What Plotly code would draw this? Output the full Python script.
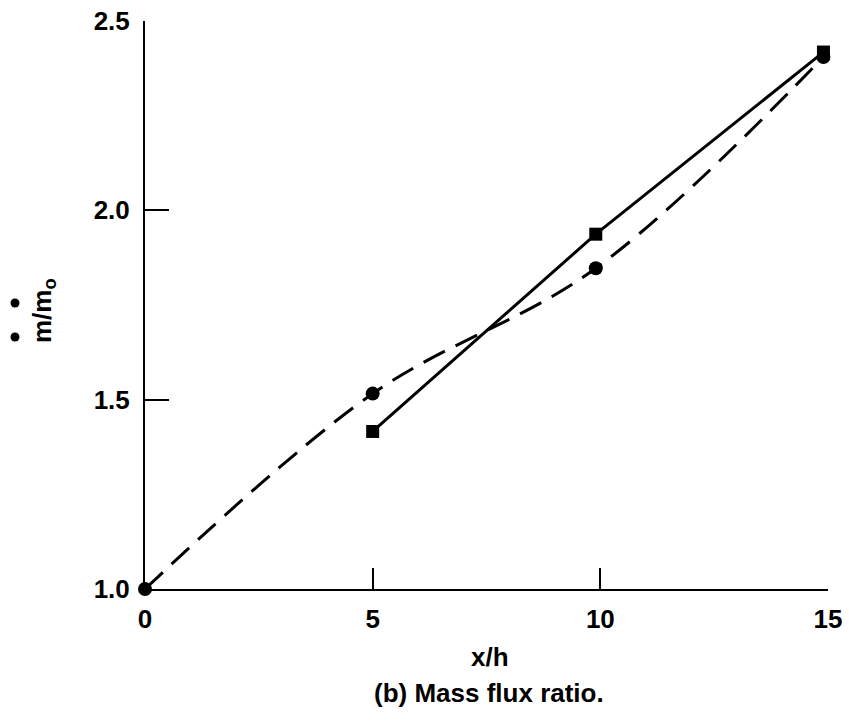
import plotly.graph_objects as go

# Data
x_circle = [0, 5, 9.9, 14.9]
y_circle = [1.0, 1.516, 1.847, 2.405]
x_square = [5, 9.9, 14.9]
y_square = [1.416, 1.937, 2.418]

x_ticks = [0, 5, 10, 15]
y_ticks = [1.0, 1.5, 2.0, 2.5]
y_tick_text = ["1.0", "1.5", "2.0", "2.5"]

W, H = 849, 721
AX_L, AX_R, AX_T, AX_B = 145, 828, 21, 589  # plot-area edges in window pixels
L, R, T, B = AX_L, W - AX_R, AX_T, H - AX_B
PW, PH = AX_R - AX_L, AX_B - AX_T
FONT = "Liberation Sans, Arial, sans-serif"
TXT = dict(size=26, family=FONT, color="black", weight="bold")


def px(xp):
    return (xp - AX_L) / PW


def py(yp):
    return (AX_B - yp) / PH


fig = go.Figure()
fig.add_trace(go.Scatter(
    x=x_circle, y=y_circle, mode="lines+markers",
    line=dict(color="black", width=3, dash="24px,12px", shape="spline", smoothing=1.0),
    marker=dict(symbol="circle", size=14, color="black"),
    cliponaxis=False, showlegend=False,
))
fig.add_trace(go.Scatter(
    x=x_square, y=y_square, mode="lines+markers",
    line=dict(color="black", width=3),
    marker=dict(symbol="square", size=13, color="black"),
    cliponaxis=False, showlegend=False,
))

# dots of the "m-dot" notation in the y title
dot_shapes = []
for yp in (303, 337):
    dot_shapes.append(dict(
        type="circle", xref="paper", yref="paper",
        xsizemode="pixel", ysizemode="pixel",
        xanchor=px(15), yanchor=py(yp),
        x0=-4.5, x1=4.5, y0=-4.5, y1=4.5,
        fillcolor="black", line=dict(width=0),
    ))

fig.update_layout(
    width=W, height=H, autosize=False,
    margin=dict(l=L, r=R, t=T, b=B, pad=0, autoexpand=False),
    plot_bgcolor="white", paper_bgcolor="white",
    font=dict(family=FONT, color="black", size=26),
    xaxis=dict(
        range=[0, 15], tickvals=x_ticks, ticktext=[str(v) for v in x_ticks],
        showgrid=False, zeroline=False, showline=True, linecolor="black", linewidth=2,
        ticks="inside", ticklen=21, tickwidth=2, tickcolor="black", automargin=False,
        tickfont=TXT, ticklabelstandoff=6, ticklabeloverflow="allow",
    ),
    yaxis=dict(
        range=[1.0, 2.5], tickvals=y_ticks, ticktext=y_tick_text,
        showgrid=False, zeroline=False, showline=True, linecolor="black", linewidth=2,
        ticks="inside", ticklen=24, tickwidth=2, tickcolor="black", automargin=False,
        tickfont=TXT, ticklabelstandoff=8, ticklabeloverflow="allow",
    ),
    shapes=dot_shapes,
    annotations=[
        dict(text="x/h", xref="paper", yref="paper", x=px(490), y=py(657),
             xanchor="center", yanchor="middle", showarrow=False, font=TXT),
        dict(text="(b) Mass flux ratio.", xref="paper", yref="paper", x=px(489), y=py(693),
             xanchor="center", yanchor="middle", showarrow=False, font=TXT),
        dict(text="m/m<sub>o</sub>", xref="paper", yref="paper", x=px(43), y=py(311),
             xanchor="center", yanchor="middle", showarrow=False, textangle=-90, font=TXT),
    ],
)

fig.write_html(
    "out.html",
    config={"displayModeBar": False},
    post_script="document.body.style.margin='0';document.body.style.overflow='hidden';",
)
